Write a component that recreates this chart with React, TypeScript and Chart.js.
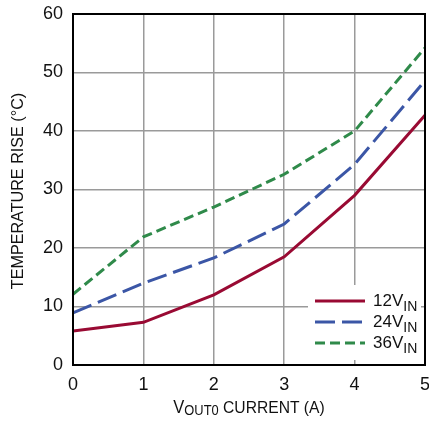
import React, { useEffect, useRef } from "react";
import { Chart, registerables } from "chart.js";

Chart.register(...registerables);

const currents = [0, 1, 2, 3, 4, 5];
const rise12V = [5.8, 7.3, 12.0, 18.5, 29.0, 42.7];
const rise24V = [8.9, 14.0, 18.3, 24.1, 34.3, 48.6];
const rise36V = [12.1, 21.9, 27.0, 32.6, 40.0, 54.2];
const seriesNames = ["12V", "24V", "36V"];
const seriesSub = "IN";
const yTitle = "TEMPERATURE RISE (°C)";
const xTitleMain = "V";
const xTitleSub = "OUT0";
const xTitleRest = " CURRENT (A)";

const FONT = '"Liberation Sans", Arial, sans-serif';
const RED = "#990a33";
const BLUE = "#3b56a6";
const GREEN = "#2f8a4a";
const DASHES: number[][] = [[], [20, 7], [10, 5]];
const COLORS = [RED, BLUE, GREEN];

const overlay = {
  id: "overlay",
  afterDatasetsDraw(chart: any) {
    const ctx = chart.ctx;
    const a = chart.chartArea;
    ctx.save();
    // frame
    ctx.strokeStyle = "#000";
    ctx.lineWidth = 2;
    ctx.strokeRect(a.left, a.top, a.right - a.left, a.bottom - a.top);
    // legend box
    const bx = a.right - 117;
    const by = a.bottom - 80;
    ctx.fillStyle = "#fff";
    ctx.fillRect(bx, by, 113, 75);
    const rows = [by + 16, by + 37, by + 58];
    seriesNames.forEach((name, i) => {
      ctx.beginPath();
      ctx.setLineDash(DASHES[i]);
      ctx.strokeStyle = COLORS[i];
      ctx.lineWidth = 3;
      ctx.moveTo(bx + 7, rows[i]);
      ctx.lineTo(bx + 57, rows[i]);
      ctx.stroke();
      ctx.setLineDash([]);
      ctx.fillStyle = "#111";
      ctx.textBaseline = "alphabetic";
      ctx.textAlign = "left";
      ctx.font = `17px ${FONT}`;
      ctx.fillText(name, bx + 65, rows[i] + 5);
      const w = ctx.measureText(name).width;
      ctx.font = `14px ${FONT}`;
      ctx.fillText(seriesSub, bx + 65 + w, rows[i] + 10);
    });
    ctx.restore();
  },
  afterDraw(chart: any) {
    const ctx = chart.ctx;
    const a = chart.chartArea;
    ctx.save();
    ctx.fillStyle = "#111";
    // y title
    ctx.translate(23, 191);
    ctx.rotate(-Math.PI / 2);
    ctx.scale(0.95, 1);
    ctx.font = `17px ${FONT}`;
    ctx.textAlign = "center";
    ctx.textBaseline = "alphabetic";
    ctx.fillText(yTitle, 0, 0);
    ctx.restore();
    // x title
    ctx.save();
    ctx.fillStyle = "#111";
    ctx.textBaseline = "alphabetic";
    ctx.textAlign = "left";
    const f1 = `18px ${FONT}`;
    const f2 = `14px ${FONT}`;
    const f3 = `17px ${FONT}`;
    ctx.font = f1;
    const w1 = ctx.measureText(xTitleMain).width;
    ctx.font = f2;
    const w2 = ctx.measureText(xTitleSub).width;
    ctx.font = f3;
    const w3 = ctx.measureText(xTitleRest).width;
    const sx = 0.92;
    const total = (w1 + w2 + w3) * sx;
    const base = 413;
    ctx.translate((a.left + a.right) / 2 - total / 2, base);
    ctx.scale(sx, 1);
    let x = 0;
    ctx.font = f1;
    ctx.fillText(xTitleMain, x, 0);
    x += w1;
    ctx.font = f2;
    ctx.fillText(xTitleSub, x, 2);
    x += w2;
    ctx.font = f3;
    ctx.fillText(xTitleRest, x, 0);
    ctx.restore();
  },
};

export default function App() {
  const ref = useRef<HTMLCanvasElement>(null);
  useEffect(() => {
    if (!ref.current) return;
    const mk = (vals: number[]) => currents.map((c, i) => ({ x: c, y: vals[i] }));
    const chart = new Chart(ref.current, {
      type: "line",
      data: {
        datasets: [
          { label: "12V", data: mk(rise12V), borderColor: RED, borderWidth: 3, pointRadius: 0, fill: false, tension: 0 },
          { label: "24V", data: mk(rise24V), borderColor: BLUE, borderWidth: 3, borderDash: DASHES[1], pointRadius: 0, fill: false, tension: 0 },
          { label: "36V", data: mk(rise36V), borderColor: GREEN, borderWidth: 3, borderDash: DASHES[2], pointRadius: 0, fill: false, tension: 0 },
        ],
      },
      options: {
        animation: false,
        responsive: false,
        devicePixelRatio: 1,
        layout: { padding: { left: 0, top: 14, right: 4, bottom: 0 } },
        plugins: { legend: { display: false }, tooltip: { enabled: false } },
        scales: {
          x: {
            type: "linear",
            min: 0,
            max: 5,
            afterFit: (s: any) => { s.height = 58; s.paddingLeft = 0; s.paddingRight = 0; },
            ticks: { stepSize: 1, color: "#111", padding: 9, font: { family: FONT, size: 18 } },
            grid: { color: "#9a9a9a", lineWidth: 1.5, drawTicks: false },
            border: { display: false },
          },
          y: {
            min: 0,
            max: 60,
            afterFit: (s: any) => { s.width = 73; s.paddingTop = 0; s.paddingBottom = 0; },
            ticks: { stepSize: 10, color: "#111", padding: 10, font: { family: FONT, size: 18 } },
            grid: { color: "#9a9a9a", lineWidth: 1.5, drawTicks: false },
            border: { display: false },
          },
        },
      },
      plugins: [overlay],
    } as any);
    return () => chart.destroy();
  }, []);
  return (
    <div style={{ position: "absolute", left: 0, top: 0, width: 429, height: 423, background: "#fff" }}>
      <canvas ref={ref} width={429} height={423} style={{ width: 429, height: 423 }} />
    </div>
  );
}
